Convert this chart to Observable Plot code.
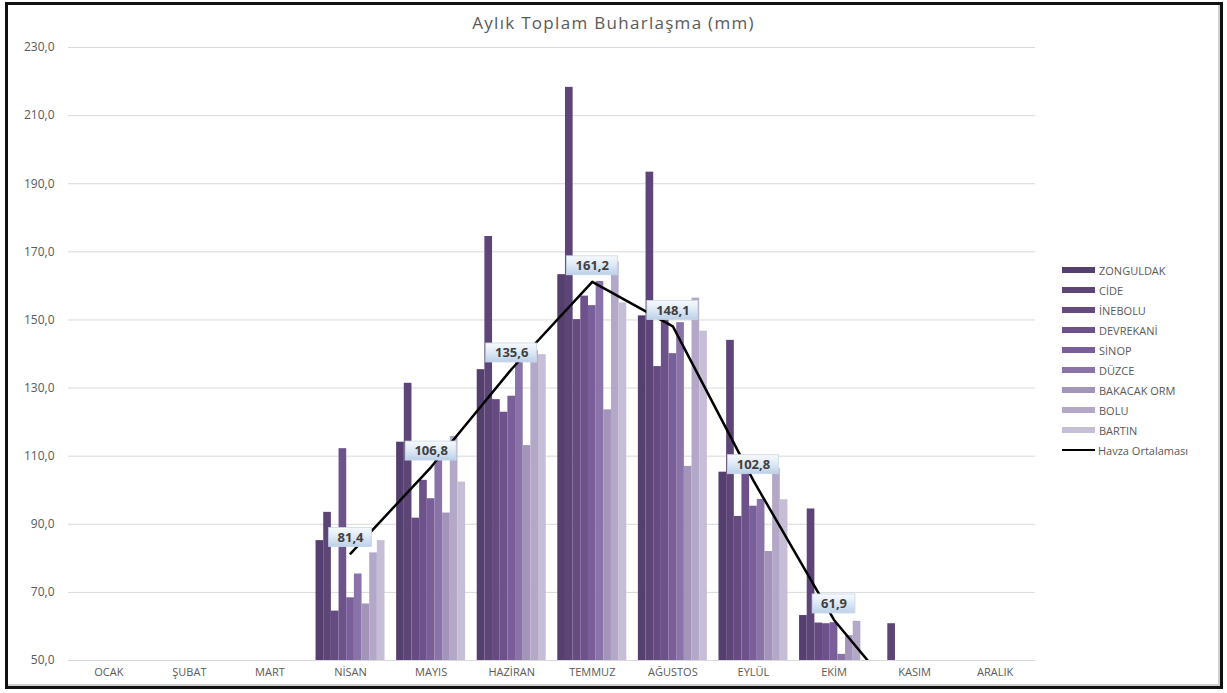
<!DOCTYPE html>
<html>
<head>
<meta charset="utf-8">
<script src="https://cdn.jsdelivr.net/npm/d3@7"></script>
<script src="https://cdn.jsdelivr.net/npm/@observablehq/plot@0.6"></script>
<style>
  html, body { margin: 0; padding: 0; background: #fff; }
  #chart { position: relative; width: 1227px; height: 693px; font-family: "Open Sans", sans-serif; color: #595959; overflow: hidden; }
  #frame { position: absolute; left: 5px; top: 2px; width: 1218px; height: 687px; box-sizing: border-box; border: 3px solid #111; box-shadow: inset -2px -2px 0 #cfcfcf; pointer-events: none; }
  #title { position: absolute; left: 0; top: 11px; width: 1227px; text-align: center; font-size: 17px; letter-spacing: 1.3px; color: #595959; }
  #plot { position: absolute; left: 0; top: 32px; }
  #legend { position: absolute; left: 1062px; top: 260px; font-size: 11px; color: #595959; }
  .row { display: flex; align-items: center; height: 20px; }
  .sw { width: 33px; height: 6px; margin-right: 4px; }
  .ln { width: 33px; height: 2px; background: #000; margin-right: 3px; }
</style>
</head>
<body>
<div id="chart">
  <div id="title">Aylık Toplam Buharlaşma (mm)</div>
  <div id="plot"></div>
  <div id="legend"></div>
  <div id="frame"></div>
</div>
<script>
// Months on the horizontal axis
const months = ["OCAK", "ŞUBAT", "MART", "NİSAN", "MAYIS", "HAZİRAN", "TEMMUZ", "AĞUSTOS", "EYLÜL", "EKİM", "KASIM", "ARALIK"];

// Stations, in bar order within each month
const stations = ["ZONGULDAK", "CİDE", "İNEBOLU", "DEVREKANİ", "SİNOP", "DÜZCE", "BAKACAK ORM", "BOLU", "BARTIN"];

// Monthly total evaporation (mm) per station; null where no measurement
const zonguldak  = [null, null, null,  85.2, 114.1, 135.4, 163.3, 151.2, 105.3, 63.2, 31.0, null];
const cide       = [null, null, null,  93.5, 131.4, 174.5, 218.3, 193.4, 144.0, 94.5, 60.8, null];
const inebolu    = [null, null, null,  64.5,  91.8, 126.6, 150.1, 136.3,  92.3, 61.0, 30.0, null];
const devrekani  = [null, null, null, 112.2, 102.9, 122.9, 157.0, 152.5, 105.8, 60.8, 29.0, null];
const sinop      = [null, null, null,  68.4,  97.5, 127.6, 154.2, 140.1,  95.3, 61.1, 30.0, null];
const duzce      = [null, null, null,  75.4, 112.0, 139.5, 161.3, 149.2,  97.3, 51.8, 28.0, null];
const bakacak    = [null, null, null,  66.6,  93.3, 113.1, 123.6, 107.0,  82.0, 57.3, 25.0, null];
const bolu       = [null, null, null,  81.6, 115.8, 141.0, 167.0, 156.4, 106.3, 61.5, 32.0, null];
const bartin     = [null, null, null,  85.2, 102.4, 139.8, 155.0, 146.7,  97.2, 45.9, 34.8, null];

// Basin average (Havza Ortalaması)
const havza = [null, null, null, 81.4, 106.8, 135.6, 161.2, 148.1, 102.8, 61.9, 33.4, null];

// Bar fills, darkest to lightest
const colors = ["#553f6e", "#5d4577", "#654b81", "#6d518b", "#795e9a", "#8a73a8", "#a395ba", "#b4a8c8", "#c6bdd7"];

const series = [zonguldak, cide, inebolu, devrekani, sinop, duzce, bakacak, bolu, bartin];

// Long table: one row per month × station
const groupWidth = 0.856;
const barW = groupWidth / stations.length;
const bars = [];
months.forEach((m, mi) => {
  stations.forEach((s, si) => {
    const v = series[si][mi];
    if (v == null) return;
    const x1 = mi - groupWidth / 2 + si * barW;
    bars.push({month: m, station: s, value: v, x1, x2: x1 + barW});
  });
});

const avg = months.map((m, mi) => ({month: m, i: mi, value: havza[mi]}));
const fmt = v => v.toFixed(1).replace(".", ",");
const labels = avg.filter(d => d.value != null && d.value >= 50);

// Light-blue callout boxes behind the average labels
function withBoxes(index, scales, values, dimensions, context, next) {
  const ns = "http://www.w3.org/2000/svg";
  const g = document.createElementNS(ns, "g");
  const defs = document.createElementNS(ns, "defs");
  defs.innerHTML = `<linearGradient id="lblGrad" x1="0" y1="0" x2="0" y2="1">
      <stop offset="0" stop-color="#f7fafd"/><stop offset="0.5" stop-color="#dde8f5"/><stop offset="1" stop-color="#bcd0e8"/></linearGradient>`;
  g.appendChild(defs);
  const h = 19;
  for (const i of index) {
    const t = fmt(labels[i].value);
    const w = 10 + t.length * 8.2;
    const r = document.createElementNS(ns, "rect");
    r.setAttribute("x", values.x[i] - w / 2);
    r.setAttribute("y", values.y[i] - 16 - h / 2);
    r.setAttribute("width", w);
    r.setAttribute("height", h);
    r.setAttribute("fill", "url(#lblGrad)");
    r.setAttribute("stroke", "#c9d7e8");
    r.setAttribute("stroke-width", 0.8);
    g.appendChild(r);
  }
  g.appendChild(next(index, scales, values, dimensions, context));
  return g;
}

const plot = Plot.plot({
  width: 1227,
  height: 661,
  marginTop: 15,
  marginBottom: 33,
  marginLeft: 68,
  marginRight: 192,
  style: {fontFamily: "Open Sans, sans-serif", color: "#595959", background: "transparent"},
  x: {type: "linear", domain: [-0.5, 11.5], label: null},
  y: {domain: [50, 230], label: null},
  color: {domain: stations, range: colors},
  marks: [
    Plot.gridY({ticks: d3.range(50, 231, 20), stroke: "#d9d9d9", strokeOpacity: 1, strokeWidth: 1}),
    Plot.axisY({ticks: d3.range(50, 231, 20), tickSize: 0, tickPadding: 14, tickFormat: fmt, fontSize: 12, label: null}),
    Plot.axisX({ticks: d3.range(months.length), tickSize: 0, tickPadding: 8, tickFormat: i => months[i], fontSize: 11, label: null}),
    Plot.rectY(bars, {x1: "x1", x2: "x2", y: "value", fill: "station", clip: true}),
    Plot.lineY(avg, {x: "i", y: "value", stroke: "#000", strokeWidth: 2.5, clip: true}),
    Plot.text(labels, {
      x: "i", y: "value", text: d => fmt(d.value), dy: -16,
      fontSize: 13, fontWeight: "bold", fill: "#404040",
      render: withBoxes
    })
  ]
});
document.getElementById("plot").appendChild(plot);

// Legend at the right
const legend = document.getElementById("legend");
stations.forEach((s, i) => {
  const row = document.createElement("div");
  row.className = "row";
  row.innerHTML = `<span class="sw" style="background:${colors[i]}"></span><span>${s}</span>`;
  legend.appendChild(row);
});
const lrow = document.createElement("div");
lrow.className = "row";
lrow.innerHTML = `<span class="ln"></span><span>Havza Ortalaması</span>`;
legend.appendChild(lrow);
</script>
</body>
</html>
